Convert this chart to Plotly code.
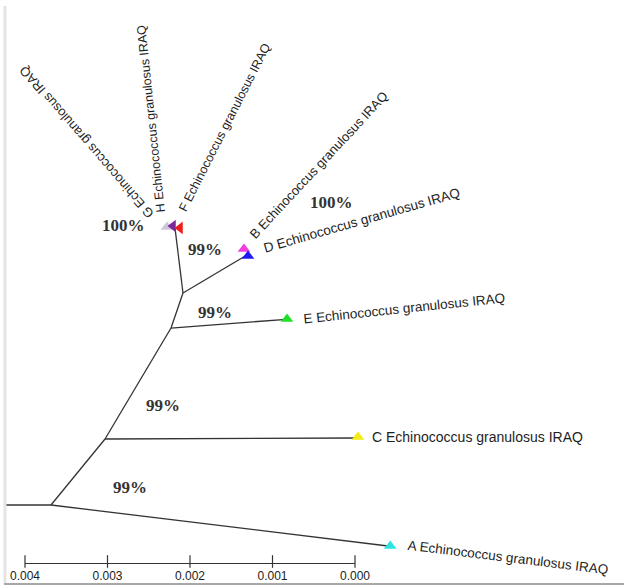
import plotly.graph_objects as go

# Unrooted tree of Echinococcus granulosus isolates (distance in substitutions/site)
SPECIES = "Echinococcus granulosus IRAQ"
taxa = ["A", "B", "C", "D", "E", "F", "G", "H"]
taxon_colors = ["#2fe3e3", "#f23cde", "#f2ec10", "#1c1cf2",
                "#22dd2a", "#f21c1c", "#cfc6dc", "#7a2a98"]
taxon_symbols = ["triangle-up", "triangle-up", "triangle-up", "triangle-up",
                 "triangle-up", "triangle-left", "triangle-up", "triangle-left"]

# node layout (x on the distance scale, y as drawing height), in units of 0.001
node_names = ["out", "n1", "n2", "n3", "n4", "tipA", "tipC", "tipE", "tipBD", "tipFGH"]
node_x = [4.242, 3.685, 3.030, 2.230, 2.085, -0.400, -0.020, 0.830, 1.330, 2.182]
node_y = [0.994, 0.994, 1.794, 3.139, 3.564, 0.497, 1.806, 3.245, 4.012, 4.352]
edges = [("out", "n1"), ("n1", "tipA"), ("n1", "n2"), ("n2", "tipC"),
         ("n2", "n3"), ("n3", "tipE"), ("n3", "n4"), ("n4", "tipBD"),
         ("n4", "tipFGH")]

# marker positions of each taxon (same units)
taxon_x = [-0.427, 1.346, -0.036, 1.297, 0.824, 2.121, 2.279, 2.206]
taxon_y = [0.497, 4.097, 1.818, 4.012, 3.248, 4.352, 4.364, 4.376]

# leaf label placement: centre and angle
label_x = [-1.855, 0.448, -1.479, -0.073, -0.594, 1.576, 3.248, 2.473]
label_y = [0.352, 5.115, 1.818, 4.448, 3.370, 5.576, 5.394, 5.685]
label_angle = [7, -47, 0, -16, -6, -63, -131, -96]
label_size = [13.5, 13, 14, 13.5, 13.5, 12.5, 13, 12.5]

# bootstrap support values
boot_text = ["100%", "100%", "99%", "99%", "99%", "99%"]
boot_x = [2.812, 0.279, 1.818, 1.697, 2.327, 2.727]
boot_y = [4.376, 4.655, 4.085, 3.333, 2.206, 1.212]

scale_ticks = [0.004, 0.003, 0.002, 0.001, 0.000]
scale_text = ["0.004", "0.003", "0.002", "0.001", "0.000"]

K = 1e-3
W, H = 624, 587
PX_PER_UNIT = 82.5  # pixels per 0.001
X0_PX = 355          # pixel column of distance 0.000

idx = {n: i for i, n in enumerate(node_names)}

fig = go.Figure()

# branches
bx, by = [], []
for p, c in edges:
    bx += [node_x[idx[p]] * K, node_x[idx[c]] * K, None]
    by += [node_y[idx[p]] * K, node_y[idx[c]] * K, None]
fig.add_trace(go.Scatter(x=bx, y=by, mode="lines",
                         line=dict(color="#333333", width=1.3),
                         hoverinfo="skip", showlegend=False))

# taxon markers, drawn in an order that keeps overlaps readable
order = ["G", "H", "F", "B", "D", "E", "C", "A"]
for t in order:
    i = taxa.index(t)
    fig.add_trace(go.Scatter(x=[taxon_x[i] * K], y=[taxon_y[i] * K], mode="markers",
                             marker=dict(symbol=taxon_symbols[i], size=11,
                                         color=taxon_colors[i], line=dict(width=0)),
                             hoverinfo="skip", showlegend=False))

# leaf labels
for i, t in enumerate(taxa):
    fig.add_annotation(x=label_x[i] * K, y=label_y[i] * K, xref="x", yref="y",
                       text=f"{t} {SPECIES}", showarrow=False,
                       textangle=label_angle[i], xanchor="center", yanchor="middle",
                       font=dict(family="Liberation Sans, Arial", size=label_size[i],
                                 color="#1e1e1e"))

# bootstrap values
for s, x, y in zip(boot_text, boot_x, boot_y):
    fig.add_annotation(x=x * K, y=y * K, xref="x", yref="y", text=f"<b>{s}</b>",
                       showarrow=False, xanchor="center", yanchor="middle",
                       font=dict(family="Liberation Serif, Times New Roman", size=17,
                                 color="#333333"))

# scale bar: crossing tick marks sitting on the axis line
fig.add_trace(go.Scatter(x=scale_ticks, y=[0.0] * len(scale_ticks), xaxis="x2", yaxis="y2",
                         mode="markers", cliponaxis=False,
                         marker=dict(symbol="line-ns-open", size=9, color="#333333",
                                     line=dict(color="#333333", width=1.2)),
                         hoverinfo="skip", showlegend=False))

x_left = X0_PX / PX_PER_UNIT * K
x_right = (X0_PX - W) / PX_PER_UNIT * K
y_top = H / PX_PER_UNIT * K
left_px = X0_PX - scale_ticks[0] / K * PX_PER_UNIT
bar_px = 563

fig.update_layout(
    template="none",
    width=W, height=H,
    margin=dict(l=0, r=0, t=0, b=0, autoexpand=False),
    paper_bgcolor="white", plot_bgcolor="rgba(0,0,0,0)",
    xaxis=dict(range=[x_left, x_right], visible=False, fixedrange=True,
               automargin=False),
    yaxis=dict(range=[0, y_top], visible=False, fixedrange=True, automargin=False),
    xaxis2=dict(domain=[left_px / W, X0_PX / W], range=[scale_ticks[0], scale_ticks[-1]],
                anchor="y2", showline=True, linecolor="#333333", linewidth=1.2,
                ticks="", tickvals=scale_ticks, ticktext=scale_text, showgrid=False,
                zeroline=False, ticklabelstandoff=1, automargin=False,
                tickfont=dict(family="Liberation Sans, Arial", size=12, color="#222222")),
    yaxis2=dict(domain=[1 - bar_px / H, 1 - (bar_px - 10) / H], visible=False,
                range=[-0.15, 0.85], anchor="x2", automargin=False),
    shapes=[
        dict(type="line", xref="paper", yref="paper", x0=5 / W, x1=5 / W,
             y0=1 - 6 / H, y1=1 - 583 / H, line=dict(color="#e4e4e4", width=3)),
        dict(type="line", xref="paper", yref="paper", x0=4 / W, x1=1,
             y0=1 - 584 / H, y1=1 - 584 / H, line=dict(color="#a8a8a8", width=2)),
    ],
)

fig.write_html("out.html")
